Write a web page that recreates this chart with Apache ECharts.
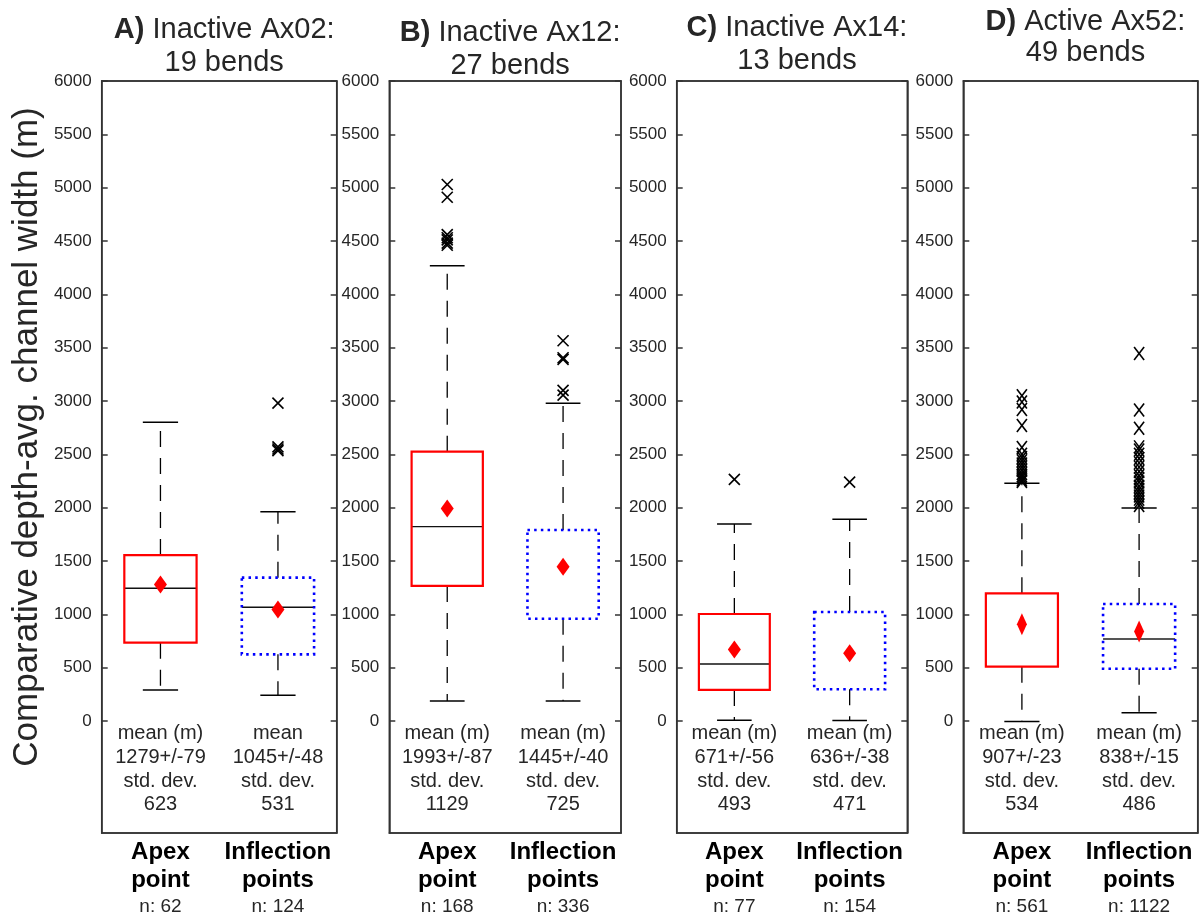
<!DOCTYPE html>
<html>
<head>
<meta charset="utf-8">
<script src="https://cdn.jsdelivr.net/npm/echarts@6/dist/echarts.min.js"></script>
<style>
  html, body { margin: 0; padding: 0; background: #fff; }
  #chart { width: 1203px; height: 917px; }
</style>
</head>
<body>
<div id="chart"></div>
<script>
// ---- data ----
const panelLetters = ['A)', 'B)', 'C)', 'D)'];
const panelNames = ['Inactive Ax02:', 'Inactive Ax12:', 'Inactive Ax14:', 'Active Ax52:'];
const bendCounts = [19, 27, 13, 49];
const categories = ['Apex\npoint', 'Inflection\npoints'];
const sampleCounts = [[62, 124], [168, 336], [77, 154], [561, 1122]];
const yTicks = [0, 500, 1000, 1500, 2000, 2500, 3000, 3500, 4000, 4500, 5000, 5500, 6000];

// box statistics per category: [lower whisker, Q1, median, Q3, upper whisker]
const boxAx02 = [[291, 734, 1244, 1556, 2800], [241, 625, 1066, 1344, 1962]];
const boxAx12 = [[187, 1266, 1822, 2525, 4268], [187, 959, null, 1790, 2978]];
const boxAx14 = [[8, 291, 534, 1003, 1847], [5, 297, null, 1022, 1891]];
const boxAx52 = [[-5, 509, null, 1197, 2228], [78, 490, 769, 1097, 1997]];

const outliersAx02 = [[], [2980, 2570, 2550, 2535]];
const outliersAx12 = [[5030, 4910, 4560, 4530, 4510, 4480, 4460], [3565, 3405, 3390, 3100, 3055]];
const outliersAx14 = [[2265], [2240]];
const outliersAx52 = [
  [3050, 2990, 2920, 2770, 2565, 2500, 2470, 2440, 2410, 2380, 2350, 2320, 2300, 2280, 2260, 2245],
  [3445, 2915, 2745, 2570, 2540, 2500, 2460, 2420, 2380, 2340, 2300, 2270, 2240, 2200, 2170, 2140, 2110, 2080, 2050, 2020]
];

const meanValues = [[1279, 1045], [1993, 1445], [671, 636], [907, 838]];
const meanErrors = [[79, 48], [87, 40], [56, 38], [23, 15]];
const stdDevs = [[623, 531], [1129, 725], [493, 471], [534, 486]];
const meanHeaders = [['mean (m)', 'mean'], ['mean (m)', 'mean (m)'], ['mean (m)', 'mean (m)'], ['mean (m)', 'mean (m)']];

const boxSets = [boxAx02, boxAx12, boxAx14, boxAx52];
const outlierSets = [outliersAx02, outliersAx12, outliersAx14, outliersAx52];

// ---- layout & style ----
const Y_MIN = -1050, Y_MAX = 6000;
const FONT = '"Liberation Sans", Arial, Helvetica, sans-serif';
const INK = '#262626';
const gridLeft = [101.7, 389.3, 676.7, 963.3];
const gridWidth = [235, 231.7, 230.6, 234.4];
const gridTop = 81, gridHeight = 752;
const titleTop = [8, 11, 6, 1];
const titleLine = [33, 33, 33, 31];
const diamondSize = [[13, 18], [13, 18], [13, 18], [10, 22]];
const crossSize = [[11, 11], [11, 11], [11, 11], [10, 13]];
const boxStyles = [
  { stroke: '#ff0000', lineWidth: 2.2, lineDash: null },
  { stroke: '#0000ff', lineWidth: 2.6, lineDash: [2.5, 4.2] }
];
const medianStyles = [
  [{ stroke: '#111', lineWidth: 1.4 }, { stroke: '#111', lineWidth: 1.4 }],
  [{ stroke: '#111', lineWidth: 1.4 }, { stroke: '#111', lineWidth: 1.4 }],
  [{ stroke: '#111', lineWidth: 1.4 }, { stroke: '#111', lineWidth: 1.4 }],
  [{ stroke: '#111', lineWidth: 1.4 }, { stroke: '#555', lineWidth: 2 }]
];
const frameLine = { color: '#333', width: 1.5 };

function renderBox(panel) {
  return function (params, api) {
    const cat = api.value(0);
    const lo = api.value(1), q1 = api.value(2), med = api.value(3), q3 = api.value(4), hi = api.value(5);
    const band = api.size([1, 0])[0];
    const cx = api.coord([cat, 0])[0];
    const y = v => api.coord([cat, v])[1];
    const bw = band * 0.615, cw = band * 0.3;
    const whisker = { stroke: '#000', lineWidth: 1.3, lineDash: [16, 11] };
    const cap = { stroke: '#000', lineWidth: 1.5 };
    const children = [
      { type: 'line', shape: { x1: cx, y1: y(q3), x2: cx, y2: y(hi) }, style: whisker },
      { type: 'line', shape: { x1: cx, y1: y(q1), x2: cx, y2: y(lo) }, style: whisker },
      { type: 'line', shape: { x1: cx - cw / 2, y1: y(hi), x2: cx + cw / 2, y2: y(hi) }, style: cap },
      { type: 'line', shape: { x1: cx - cw / 2, y1: y(lo), x2: cx + cw / 2, y2: y(lo) }, style: cap }
    ];
    if (!isNaN(med)) {
      children.push({ type: 'line', shape: { x1: cx - bw / 2, y1: y(med), x2: cx + bw / 2, y2: y(med) }, style: medianStyles[panel][cat] });
    }
    const bs = boxStyles[cat];
    children.push({
      type: 'rect',
      shape: { x: cx - bw / 2, y: y(q3), width: bw, height: y(q1) - y(q3) },
      style: { fill: 'none', stroke: bs.stroke, lineWidth: bs.lineWidth, lineDash: bs.lineDash }
    });
    return { type: 'group', children };
  };
}

function renderCross(panel) {
  return function (params, api) {
    const p = api.coord([api.value(0), api.value(1)]);
    const [w, h] = crossSize[panel];
    const st = { stroke: '#000', lineWidth: 1.6 };
    return {
      type: 'group',
      children: [
        { type: 'line', shape: { x1: p[0] - w / 2, y1: p[1] - h / 2, x2: p[0] + w / 2, y2: p[1] + h / 2 }, style: st },
        { type: 'line', shape: { x1: p[0] - w / 2, y1: p[1] + h / 2, x2: p[0] + w / 2, y2: p[1] - h / 2 }, style: st }
      ]
    };
  };
}

function renderStats(panel) {
  return function (params, api) {
    const cat = api.value(0);
    const p = api.coord([cat, 0]);
    const text = [
      meanHeaders[panel][cat],
      meanValues[panel][cat] + '+/-' + meanErrors[panel][cat],
      'std. dev.',
      String(stdDevs[panel][cat])
    ].join('\n');
    return {
      type: 'text',
      x: p[0],
      y: p[1] + 1,
      style: { text, fill: INK, fontSize: 20, fontFamily: FONT, lineHeight: 23.6, align: 'center', verticalAlign: 'top' }
    };
  };
}

const grids = [], xAxes = [], yAxes = [], series = [], titles = [];

for (let i = 0; i < 4; i++) {
  grids.push({
    left: gridLeft[i], top: gridTop, width: gridWidth[i], height: gridHeight,
    show: true, borderColor: frameLine.color, borderWidth: frameLine.width, backgroundColor: 'transparent'
  });
  titles.push({
    text: '{b|' + panelLetters[i] + '} ' + panelNames[i] + '\n' + bendCounts[i] + ' bends',
    left: gridLeft[i] + gridWidth[i] / 2,
    top: titleTop[i],
    textAlign: 'center',
    textStyle: {
      color: INK, fontSize: 29, fontFamily: FONT, fontWeight: 'normal', lineHeight: titleLine[i],
      rich: { b: { fontWeight: 'bold', fontSize: 29, fontFamily: FONT, color: INK, lineHeight: titleLine[i] } }
    }
  });
  const counts = sampleCounts[i];
  xAxes.push({
    gridIndex: i, type: 'category', data: categories, position: 'bottom',
    axisLine: { onZero: false, lineStyle: frameLine },
    axisTick: { inside: true, alignWithLabel: true, length: 7, lineStyle: frameLine },
    axisLabel: {
      margin: 5, interval: 0,
      formatter: (value, idx) => value.split('\n').map(s => '{b|' + s + '}').join('\n') + '\n{n|n: ' + counts[idx] + '}',
      rich: {
        b: { fontSize: 24, fontWeight: 'bold', fontFamily: FONT, color: '#000', lineHeight: 28 },
        n: { fontSize: 19, fontFamily: FONT, color: INK, lineHeight: 25 }
      }
    },
    splitLine: { show: false }
  });
  xAxes.push({
    gridIndex: i, type: 'category', data: categories, position: 'top',
    axisLine: { onZero: false, lineStyle: frameLine },
    axisTick: { inside: true, alignWithLabel: true, length: 6, lineStyle: frameLine },
    axisLabel: { show: false },
    splitLine: { show: false }
  });
  yAxes.push({
    gridIndex: i, type: 'value', min: Y_MIN, max: Y_MAX, position: 'left',
    axisLine: { show: true, onZero: false, lineStyle: frameLine },
    axisTick: { show: true, inside: true, length: 6, lineStyle: frameLine, customValues: yTicks },
    axisLabel: { customValues: yTicks, formatter: v => String(v), fontSize: 17, fontFamily: FONT, color: INK, margin: 10 },
    splitLine: { show: false }
  });
  yAxes.push({
    gridIndex: i, type: 'value', min: Y_MIN, max: Y_MAX, position: 'right',
    axisLine: { show: true, onZero: false, lineStyle: frameLine },
    axisTick: { show: true, inside: true, length: 6, lineStyle: frameLine, customValues: yTicks },
    axisLabel: { show: false },
    splitLine: { show: false }
  });

  const xi = 2 * i, yi = 2 * i;
  series.push({
    type: 'custom', name: 'box' + i, xAxisIndex: xi, yAxisIndex: yi,
    renderItem: renderBox(i), silent: true,
    data: boxSets[i].map((s, c) => [c].concat(s.map(v => (v === null ? '-' : v))))
  });
  const pts = [];
  outlierSets[i].forEach((list, c) => list.forEach(v => pts.push([c, v])));
  series.push({
    type: 'custom', name: 'outliers' + i, xAxisIndex: xi, yAxisIndex: yi,
    renderItem: renderCross(i), silent: true, data: pts
  });
  series.push({
    type: 'scatter', name: 'mean' + i, xAxisIndex: xi, yAxisIndex: yi,
    symbol: 'diamond', symbolSize: diamondSize[i], itemStyle: { color: '#ff0000', opacity: 1 }, silent: true,
    data: meanValues[i].map((v, c) => [c, v]), z: 5
  });
  series.push({
    type: 'custom', name: 'stats' + i, xAxisIndex: xi, yAxisIndex: yi,
    renderItem: renderStats(i), silent: true, data: [[0], [1]]
  });
}

const chart = echarts.init(document.getElementById('chart'), null, { renderer: 'canvas' });
chart.setOption({
  animation: false,
  backgroundColor: '#fff',
  title: titles,
  grid: grids,
  xAxis: xAxes,
  yAxis: yAxes,
  series,
  graphic: [{
    type: 'text',
    x: 27, y: 437, rotation: Math.PI / 2,
    style: {
      text: 'Comparative depth-avg. channel width (m)',
      fill: INK, fontSize: 35, fontFamily: FONT, align: 'center', verticalAlign: 'middle'
    }
  }]
});
</script>
</body>
</html>
